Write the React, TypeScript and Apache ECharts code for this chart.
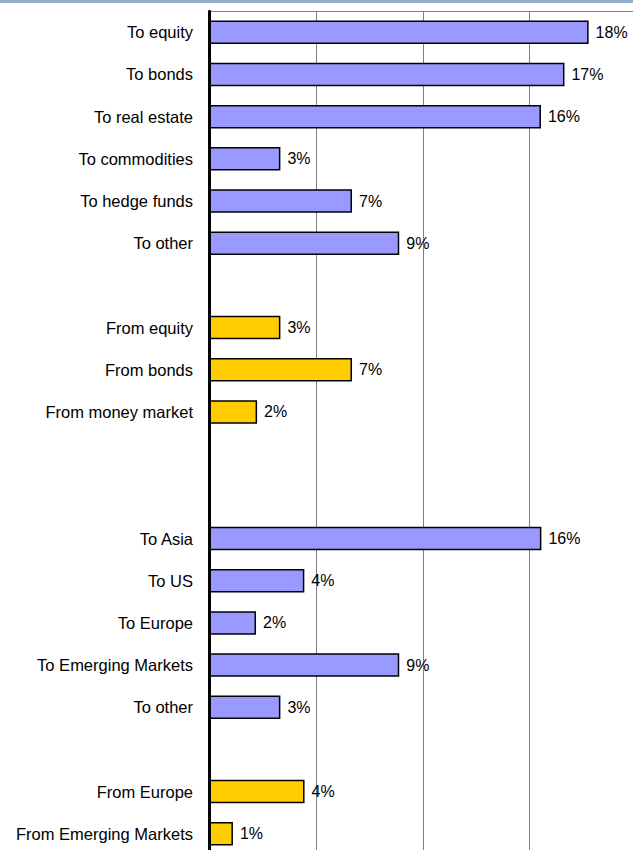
import React, { useEffect, useRef } from "react";
import * as echarts from "echarts";

// Categories top to bottom ("" entries are empty spacer rows)
const categories: string[] = [
  "To equity",
  "To bonds",
  "To real estate",
  "To commodities",
  "To hedge funds",
  "To other",
  "",
  "From equity",
  "From bonds",
  "From money market",
  "",
  "",
  "To Asia",
  "To US",
  "To Europe",
  "To Emerging Markets",
  "To other",
  "",
  "From Europe",
  "From Emerging Markets",
];

// Values in percent (null = spacer)
const values: (number | null)[] = [
  17.76, 16.63, 15.53, 3.34, 6.69, 8.9,
  null,
  3.34, 6.69, 2.25,
  null, null,
  15.55, 4.46, 2.2, 8.9, 3.34,
  null,
  4.47, 1.12,
];

// Group of each row: "to" (blue) or "from" (yellow)
const groups: string[] = [
  "to", "to", "to", "to", "to", "to",
  "",
  "from", "from", "from",
  "", "",
  "to", "to", "to", "to", "to",
  "",
  "from", "from",
];

const xTicks = { min: 0, max: 20, interval: 5 };

const COLORS: Record<string, string> = { to: "#9999ff", from: "#ffcc00" };

export default function App() {
  const ref = useRef<HTMLDivElement>(null);
  useEffect(() => {
    document.body.style.margin = "0";
    document.body.style.overflow = "hidden";
    document.documentElement.style.overflow = "hidden";
    if (!ref.current) return;
    const chart = echarts.init(ref.current, undefined, { renderer: "svg" });
    // unique names for spacer rows
    const cats = categories.map((c, i) => (c === "" ? " ".repeat(i + 1) : c));
    chart.setOption({
      animation: false,
      backgroundColor: "#ffffff",
      textStyle: { fontFamily: "Liberation Sans, Arial, sans-serif" },
      graphic: [
        {
          type: "rect",
          shape: { x: 0, y: 0, width: 660, height: 3 },
          style: { fill: "#93accb" },
          z: 100,
        },
      ],
      grid: { left: 209, top: 11.2, width: 427.5, height: 843.7, containLabel: false },
      xAxis: {
        type: "value",
        position: "top",
        min: xTicks.min,
        max: xTicks.max,
        interval: xTicks.interval,
        axisLine: { show: true, lineStyle: { color: "#808080", width: 1 } },
        axisTick: { show: false },
        axisLabel: { show: false },
        splitLine: { show: true, lineStyle: { color: "#808080", width: 1 } },
      },
      yAxis: {
        type: "category",
        inverse: true,
        data: cats,
        axisLine: { show: true, onZero: false, lineStyle: { color: "#000000", width: 3 } },
        axisTick: { show: false },
        axisLabel: {
          margin: 16,
          fontSize: 16.5,
          color: "#000000",
          fontFamily: "Liberation Sans, Arial, sans-serif",
          formatter: (v: string) => v.trim(),
        },
        z: 10,
      },
      series: [
        {
          type: "bar",
          barWidth: 23.5,
          data: values.map((v, i) =>
            v === null
              ? null
              : {
                  value: v,
                  itemStyle: {
                    color: COLORS[groups[i]],
                    borderColor: "#000000",
                    borderWidth: 1.5,
                  },
                }
          ),
          label: {
            show: true,
            position: "right",
            distance: 7,
            fontSize: 16,
            color: "#000000",
            fontFamily: "Liberation Sans, Arial, sans-serif",
            formatter: (p: any) => `${Math.round(p.value)}%`,
          },
        },
      ],
    });
    return () => chart.dispose();
  }, []);
  return <div ref={ref} style={{ width: 660, height: 870 }} />;
}
